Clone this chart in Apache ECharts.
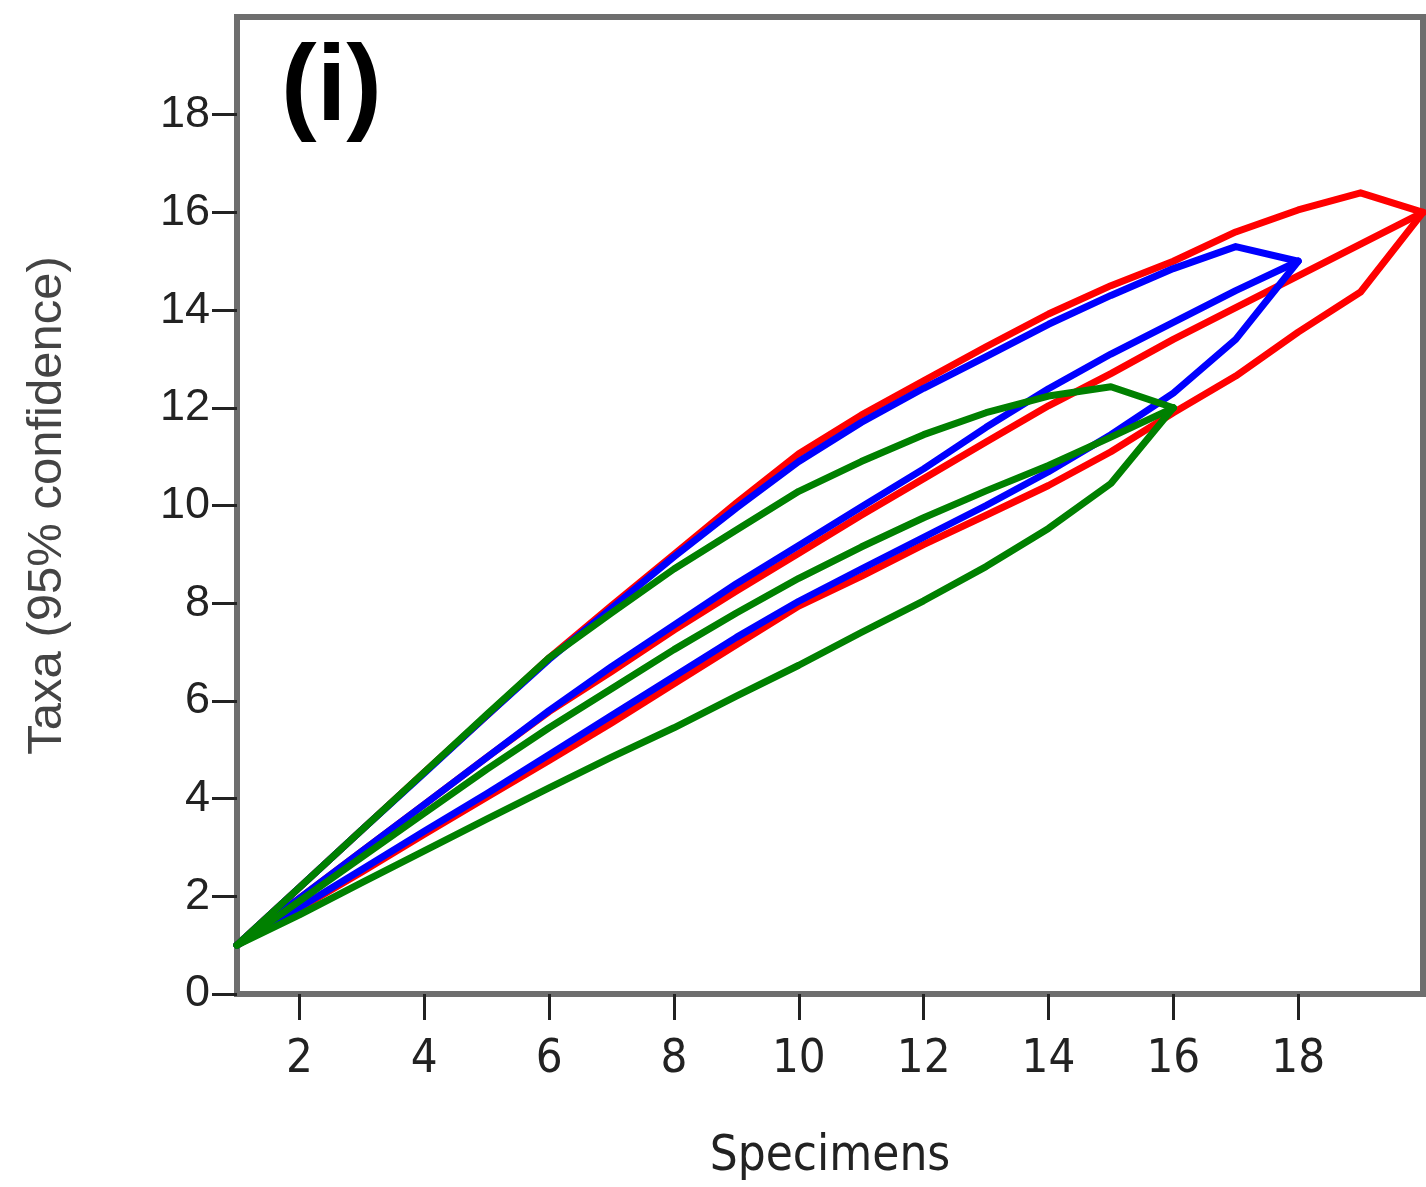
<!DOCTYPE html>
<html>
<head>
<meta charset="utf-8">
<script src="https://cdn.jsdelivr.net/npm/echarts@6/dist/echarts.min.js"></script>
<style>html,body{margin:0;padding:0;background:#fff}#c{width:1426px;height:1187px}</style>
</head>
<body>
<div id="c"></div>
<script>
// Specimens (x) per sample
const xRed = [1,2,3,4,5,6,7,8,9,10,11,12,13,14,15,16,17,18,19,20];
const redUpper = [1,2.18,3.36,4.54,5.7,6.88,7.95,9.0,10.05,11.06,11.85,12.55,13.25,13.92,14.5,15.0,15.6,16.05,16.4,16];
const redMean  = [1,1.96,2.92,3.88,4.84,5.78,6.6,7.45,8.25,9.02,9.8,10.55,11.3,12.04,12.7,13.4,14.05,14.7,15.35,16];
const redLower = [1,1.75,2.5,3.27,4.03,4.78,5.55,6.35,7.15,7.94,8.55,9.2,9.8,10.41,11.1,11.9,12.65,13.55,14.37,16];

const xBlue = [1,2,3,4,5,6,7,8,9,10,11,12,13,14,15,16,17,18];
const blueUpper = [1,2.18,3.36,4.52,5.7,6.85,7.9,8.95,9.95,10.9,11.7,12.4,13.05,13.71,14.3,14.85,15.3,15];
const blueMean  = [1,1.96,2.92,3.88,4.84,5.8,6.7,7.55,8.4,9.18,9.97,10.75,11.6,12.39,13.1,13.75,14.4,15];
const blueLower = [1,1.77,2.55,3.33,4.1,4.9,5.7,6.5,7.3,8.04,8.7,9.35,10.0,10.69,11.45,12.3,13.4,15];

const xGreen = [1,2,3,4,5,6,7,8,9,10,11,12,13,14,15,16];
const greenUpper = [1,2.18,3.36,4.54,5.72,6.88,7.8,8.7,9.5,10.29,10.9,11.45,11.9,12.24,12.43,12];
const greenMean  = [1,1.9,2.8,3.7,4.6,5.45,6.25,7.05,7.8,8.51,9.15,9.75,10.3,10.82,11.4,12];
const greenLower = [1,1.62,2.28,2.93,3.58,4.22,4.85,5.45,6.1,6.73,7.4,8.05,8.75,9.53,10.45,12];

const xTicks = [2,4,6,8,10,12,14,16,18];
const yTicks = [0,2,4,6,8,10,12,14,16,18];

const pair = (xs, ys) => xs.map((x, i) => [x, ys[i]]);
function line(name, xs, ys, color) {
  return {
    name, type: 'line', data: pair(xs, ys), showSymbol: false, symbol: 'none',
    lineStyle: { color, width: 7, join: 'round', cap: 'round' }, silent: true, z: 3
  };
}

const chart = echarts.init(document.getElementById('c'));
chart.setOption({
  animation: false,
  backgroundColor: '#fff',
  grid: { left: 237, top: 17, right: 3, bottom: 190, show: true, borderColor: '#6e6e6e', borderWidth: 6 },
  xAxis: {
    type: 'value', min: 1, max: 20,
    name: 'Specimens', nameLocation: 'middle', nameGap: 139,
    nameTextStyle: { fontFamily: 'Liberation Sans Narrow, DejaVu Sans Condensed, Liberation Sans, sans-serif', fontSize: 49, color: '#222' },
    axisLine: { show: true, lineStyle: { color: '#6e6e6e', width: 6 } },
    axisTick: { show: true, length: 26, customValues: xTicks, lineStyle: { color: '#222', width: 3 } },
    axisLabel: { customValues: xTicks, margin: 42, fontSize: 47, color: '#222',
      fontFamily: 'Liberation Sans Narrow, DejaVu Sans Condensed, Liberation Sans, sans-serif' },
    splitLine: { show: false }
  },
  yAxis: {
    type: 'value', min: 0, max: 20,
    name: 'Taxa (95% confidence)', nameLocation: 'middle', nameGap: 165, nameRotate: 90,
    nameTextStyle: { fontFamily: 'Liberation Sans, Arial, sans-serif', fontSize: 49, color: '#444' },
    axisLine: { show: true, lineStyle: { color: '#6e6e6e', width: 6 } },
    axisTick: { show: true, length: 25, customValues: yTicks, lineStyle: { color: '#222', width: 3 } },
    axisLabel: { customValues: yTicks, margin: 27, fontSize: 45, color: '#222',
      fontFamily: 'Liberation Sans, Arial, sans-serif' },
    splitLine: { show: false }
  },
  graphic: [{
    type: 'text', left: 281, top: 37,
    style: { text: '(i)', fontSize: 107, fontWeight: 'bold', fontFamily: 'Liberation Sans, Arial, sans-serif', fill: '#000' }
  }],
  series: [
    line('red upper', xRed, redUpper, '#ff0000'),
    line('red mean', xRed, redMean, '#ff0000'),
    line('red lower', xRed, redLower, '#ff0000'),
    line('blue upper', xBlue, blueUpper, '#0000ff'),
    line('blue mean', xBlue, blueMean, '#0000ff'),
    line('blue lower', xBlue, blueLower, '#0000ff'),
    line('green upper', xGreen, greenUpper, '#008000'),
    line('green mean', xGreen, greenMean, '#008000'),
    line('green lower', xGreen, greenLower, '#008000')
  ]
});
</script>
</body>
</html>
